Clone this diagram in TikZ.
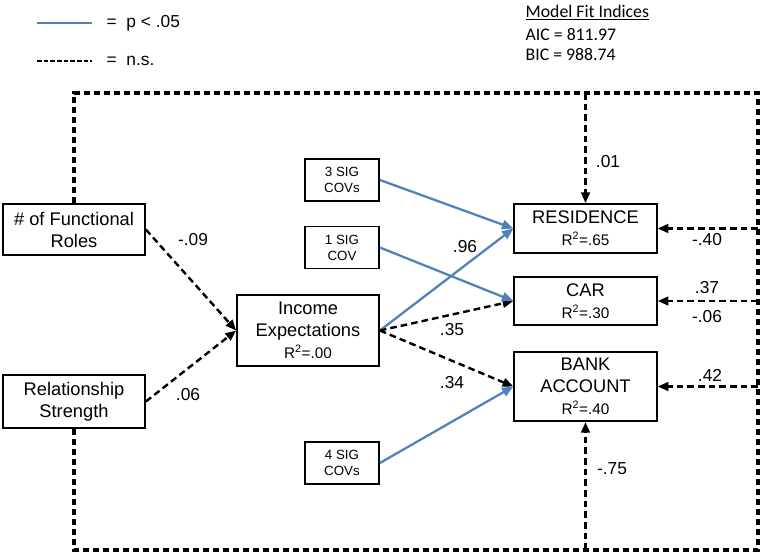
\documentclass[tikz,border=0pt]{standalone}
\usepackage{fontspec}
\setmainfont{Liberation Sans}
\newfontfamily\calibri{Carlito}
\usetikzlibrary{arrows.meta}
\definecolor{sigblue}{RGB}{79,129,189}
\newcommand{\rsq}[1]{{\fontsize{11.5}{14}\selectfont R\textsuperscript{2}=#1}}

\begin{document}
\begin{tikzpicture}[x=0.75pt,y=-0.75pt,
  box/.style={draw,line width=1.3pt,align=center,inner sep=0pt,font=\fontsize{13.7}{16.5}\selectfont},
  covbox/.style={draw,line width=1.3pt,align=center,inner sep=0pt,minimum width=55.5pt,minimum height=31.5pt,font=\fontsize{10}{12}\selectfont},
  sig/.style={line width=1.7pt,color=sigblue,-{Triangle[length=8.5pt,width=7pt]}},
  ns/.style={line width=1.8pt,dash pattern=on 5pt off 3pt,-{Triangle[length=8pt,width=6.5pt]}},
  frame/.style={line width=2.6pt,dash pattern=on 5pt off 2.5pt},
  coef/.style={font=\fontsize{13}{15}\selectfont}]
\useasboundingbox (0,0) rectangle (764,552);

\coordinate (sigA) at (37,23);
\coordinate (sigB) at (92,23);
\coordinate (nsA) at (37,61);
\coordinate (nsB) at (92,61);
\draw[line width=1.8pt,sigblue] (sigA) -- (sigB);
\draw[line width=1.8pt,dash pattern=on 3.5pt off 1.5pt] (nsA) -- (nsB);
\node[anchor=west,font=\fontsize{13}{15}\selectfont] (sigtext) at (102,23) {=~~p < .05};
\node[anchor=west,font=\fontsize{13}{15}\selectfont] (nstext) at (102,61) {=~~n.s.};

\node[anchor=west,font=\calibri\fontsize{13.3}{16}\selectfont] (fittitle) at (521,13) {\underline{Model Fit Indices}};
\node[anchor=west,font=\calibri\fontsize{13.3}{16}\selectfont] (aic) at (521,35) {AIC = 811.97};
\node[anchor=west,font=\calibri\fontsize{13.3}{16}\selectfont] (bic) at (521,55) {BIC = 988.74};

\node[box,minimum width=106.5pt,minimum height=38pt] (roles) at (74,229.5) {\# of Functional\\Roles};
\node[box,minimum width=106.5pt,minimum height=40pt] (strength) at (74,401.5) {Relationship\\Strength};
\node[box,minimum width=106.5pt,minimum height=53pt] (income) at (308,330.5) {Income\\Expectations\\\rsq{.00}};
\node[covbox] (cov3) at (342,180) {3 SIG\\COVs};
\node[covbox] (cov1) at (342,247.5) {1 SIG\\COV};
\node[covbox] (cov4) at (342,463) {4 SIG\\COVs};
\node[box,minimum width=107pt,minimum height=36.75pt] (residence) at (585.5,228.5) {RESIDENCE\\\rsq{.65}};
\node[box,minimum width=107pt,minimum height=36pt] (car) at (585.5,301) {CAR\\\rsq{.30}};
\node[box,minimum width=107pt,minimum height=52pt] (bank) at (585.5,386.5) {BANK\\ACCOUNT\\\rsq{.40}};

\coordinate (topright) at (758,93);
\coordinate (botright) at (758,550);
\coordinate (restop) at (585.5,93);
\coordinate (bankbot) at (585.5,550);
\coordinate (resright) at (758,228.5);
\coordinate (carright) at (758,301);
\coordinate (bankright) at (758,386.5);

\draw[frame] (roles.north) |- (topright) -- (botright) -| (strength.south);

\draw[ns] (roles.east) -- (income.west);
\draw[ns] (strength.east) -- (income.west);
\draw[sig] (income.east) -- (residence.west);
\draw[ns] (income.east) -- (car.west);
\draw[ns] (income.east) -- (bank.west);
\draw[sig] (cov3.east) -- (residence.west);
\draw[sig] (cov1.east) -- (car.west);
\draw[sig] (cov4.east) -- (bank.west);
\draw[ns] (restop) -- (residence.north);
\draw[ns] (resright) -- (residence.east);
\draw[ns] (carright) -- (car.east);
\draw[ns] (bankright) -- (bank.east);
\draw[ns] (bankbot) -- (bank.south);

\node[coef] (b1) at (193,240) {-.09};
\node[coef] (b2) at (188,395) {.06};
\node[coef] (b3) at (465,247) {.96};
\node[coef] (b4) at (452,330) {.35};
\node[coef] (b5) at (452,383) {.34};
\node[coef] (b6) at (608,162) {.01};
\node[coef] (b7) at (707,240) {-.40};
\node[coef] (b8) at (707,288) {.37};
\node[coef] (b9) at (707,317) {-.06};
\node[coef] (b10) at (710,375) {.42};
\node[coef] (b11) at (612,469) {-.75};
\end{tikzpicture}
\end{document}
